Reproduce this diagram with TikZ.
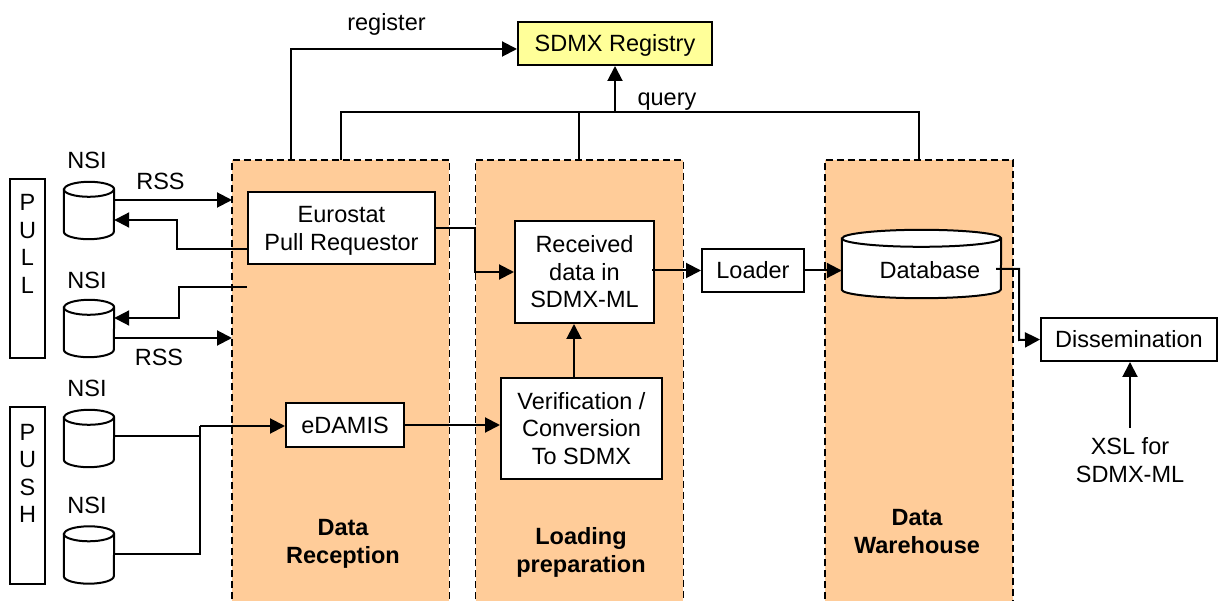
\documentclass[tikz,border=0pt]{standalone}
\usepackage{fontspec}
\setmainfont{Liberation Sans}
\usetikzlibrary{arrows.meta}

\definecolor{lanefill}{RGB}{255,204,153}
\definecolor{regfill}{RGB}{255,255,153}

% cylinder outline around a rectangular node: name, x radius, y radius of the caps
\newcommand\drum[3]{%
  \draw[line width=2pt,fill=white]
    ([yshift=-#3pt]#1.north west) -- ([yshift=#3pt]#1.south west)
    arc[start angle=180,end angle=360,x radius=#2pt,y radius=#3pt]
    -- ([yshift=-#3pt]#1.north east)
    arc[start angle=0,end angle=180,x radius=#2pt,y radius=#3pt] -- cycle;
  \draw[line width=2pt] ([yshift=-#3pt]#1.north west)
    arc[start angle=180,end angle=360,x radius=#2pt,y radius=#3pt];
}

\begin{document}
\begin{tikzpicture}[x=1pt,y=-1pt,
  every node/.style={font=\fontsize{23.5}{27.5}\selectfont, inner sep=0pt},
  caps/.style={text height=16.8pt,text depth=0pt},
  caps2/.style={text height=44.3pt,text depth=0pt},
  caps3/.style={text height=71.8pt,text depth=0pt},
  caps4/.style={text height=99.3pt,text depth=0pt},
  box/.style={draw,line width=2pt,fill=white,align=center},
  lane/.style={fill=lanefill,draw=none},
  laneedge/.style={line width=1.8pt,dash pattern=on 7pt off 4pt},
  nsi/.style={minimum width=50pt,minimum height=57pt},
  link/.style={line width=2pt},
  arr/.style={link,-{Triangle[length=15pt,width=15pt]}},
  lanelbl/.style={caps2,align=center,font=\fontsize{23.5}{27.5}\selectfont\bfseries}
]
\fill[white] (0,0) rectangle (1219,601);
\useasboundingbox (0,0) rectangle (1219,601);

% swim lanes
\node[lane,minimum width=217pt,minimum height=450pt,anchor=north west] (laneA) at (232,160) {};
\node[lane,minimum width=207.5pt,minimum height=450pt,anchor=north west] (laneB) at (475.5,160) {};
\node[lane,minimum width=187.5pt,minimum height=450pt,anchor=north west] (laneC) at (825,160) {};
\foreach \l in {laneA,laneB,laneC}
  \draw[laneedge] (\l.south west) -- (\l.north west) -- (\l.north east) -- (\l.south east);

\node[lanelbl] (laneAl) at (343,541) {Data\\Reception};
\node[lanelbl] (laneBl) at (581,550) {Loading\\preparation};
\node[lanelbl] (laneCl) at (917,531) {Data\\Warehouse};

% pull / push side bars
\node[draw,line width=2pt,minimum width=35pt,minimum height=179pt] (pull) at (27.5,268.5) {};
\node[caps4,align=center] (pulltxt) at (27.5,243.4) {P\\U\\L\\L};
\node[draw,line width=2pt,minimum width=35pt,minimum height=177pt] (push) at (27.5,495.5) {};
\node[caps4,align=center] (pushtxt) at (27.5,473) {P\\U\\S\\H};

% national statistical institutes
\node[nsi] (nsi1) at (89,210.5) {};
\node[nsi] (nsi2) at (89,328.5) {};
\node[nsi] (nsi3) at (89,438.5) {};
\node[nsi] (nsi4) at (89,555) {};
\foreach \n in {nsi1,nsi2,nsi3,nsi4} {\drum{\n}{25}{7.5}}
\node[anchor=base] (nsi1l) at (87,169) {NSI};
\node[anchor=base] (nsi2l) at (87,289) {NSI};
\node[anchor=base] (nsi3l) at (87,397) {NSI};
\node[anchor=base] (nsi4l) at (87,514) {NSI};
\node[anchor=base] (rss1) at (160.5,189.7) {RSS};
\node[anchor=base] (rss2) at (159,366) {RSS};

% process boxes
\node[box,caps,fill=regfill,minimum width=194pt,minimum height=43pt] (reg) at (615,43.5) {SDMX Registry};
\node[box,caps2,minimum width=187pt,minimum height=72pt] (eps) at (341.5,228) {Eurostat\\Pull Requestor};
\node[box,caps,minimum width=118pt,minimum height=44pt] (edamis) at (345,425) {eDAMIS};
\node[box,caps3,minimum width=139pt,minimum height=102pt] (rxdata) at (584.5,272) {Received\\data in\\SDMX-ML};
\node[box,caps3,minimum width=161pt,minimum height=101pt] (verif) at (581.5,428.5) {Verification /\\Conversion\\To SDMX};
\node[box,caps,minimum width=102pt,minimum height=43pt] (loader) at (753,270.5) {Loader};
\node[minimum width=159pt,minimum height=68pt] (db) at (921.5,264) {};
\drum{db}{79.5}{8.5}
\node[caps] (dbl) at (930,270) {Database};
\node[box,caps,minimum width=176pt,minimum height=43pt] (diss) at (1129,339.5) {Dissemination};
\node[caps2,align=center,inner ysep=10pt] (xsl) at (1130,460) {XSL for\\SDMX-ML};

\node[anchor=base] (regl) at (386.5,31) {register};
\node[anchor=base] (qryl) at (667,106) {query};

% registry links
\draw[arr] (laneA.north -| 291,0) |- (reg.west |- 0,49);
\draw[link] (laneA.north) |- (laneC.north |- 0,112) -- (laneC.north);
\draw[link] (laneB.north) -- (laneB.north |- 0,112);
\draw[arr] (reg.south |- 0,112) -- (reg.south);

% pull exchange
\draw[arr] (nsi1.east |- 0,200) -- (laneA.west |- 0,200);
\draw[arr] (eps.west |- 0,249) -| (177,220) -- (nsi1.east |- 0,220);
\draw[arr] (eps.west |- 0,287) -| (179,318) -- (nsi2.east |- 0,318);
\draw[arr] (nsi2.east |- 0,338) -- (laneA.west |- 0,338);

% push exchange
\coordinate (pushjoin) at (200,426);
\draw[link] (nsi3.east |- 0,436) -| (pushjoin);
\draw[link] (nsi4.east |- 0,554) -| (pushjoin);
\draw[arr] (pushjoin) -- (edamis.west |- pushjoin);

% processing chain
\draw[arr] (edamis.east) -- (edamis.east -| verif.west);
\draw[arr] (eps.east) -| (475,272) -- (rxdata.west);
\draw[arr] (verif.north -| 574,0) -- (rxdata.south -| 574,0);
\draw[arr] ([xshift=-3pt]rxdata.east |- loader.west) -- (loader.west);
\draw[arr] (loader.east) -- (loader.east -| db.west);
\draw[arr] ([xshift=-5pt]db.east |- 0,269) -| (1019,340) -- (diss.west);
\draw[arr] (xsl.north) -- (xsl.north |- diss.south);
\end{tikzpicture}
\end{document}
